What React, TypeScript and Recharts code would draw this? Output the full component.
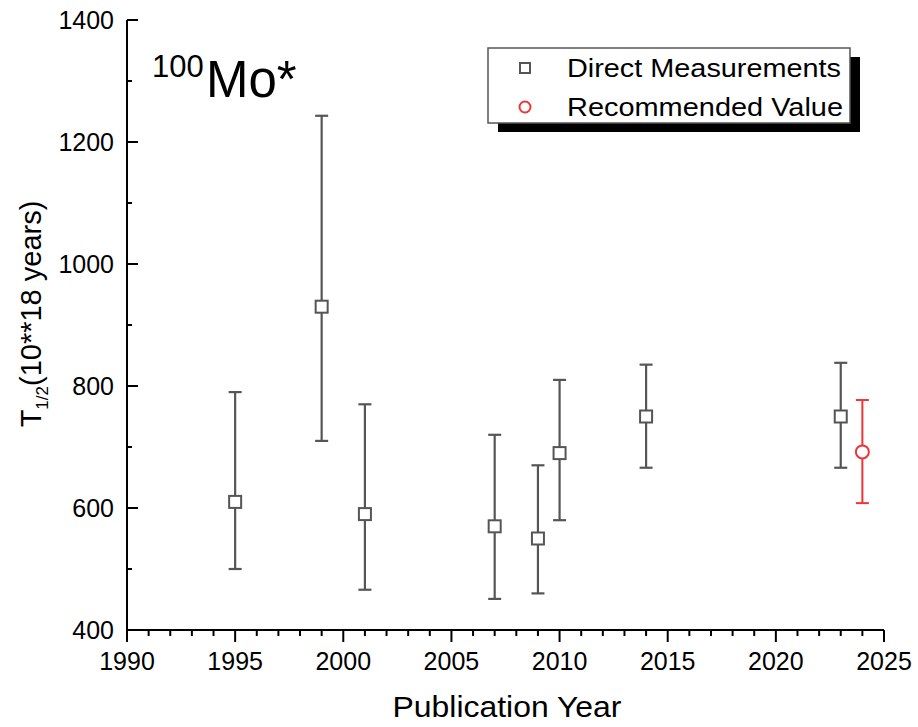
import React from 'react';
import { ScatterChart, Scatter, XAxis, YAxis, ErrorBar } from 'recharts';

// Direct measurements (values in 10**18 years)
const directYears = [1995, 1999, 2001, 2007, 2009, 2010, 2014, 2023];
const directValues = [610, 930, 590, 570, 550, 690, 750, 750];
const directUpper = [790, 1243, 770, 720, 670, 810, 835, 838];
const directLower = [500, 710, 466, 451, 460, 580, 666, 666];

// Recommended value
const recYears = [2024];
const recValues = [692];
const recUpper = [777];
const recLower = [608];

const xMajorTicks = [1990, 1995, 2000, 2005, 2010, 2015, 2020, 2025];
const yMajorTicks = [400, 600, 800, 1000, 1200, 1400];
const xAllTicks = Array.from({ length: 36 }, (_, i) => 1990 + i);
const yAllTicks = Array.from({ length: 11 }, (_, i) => 400 + i * 100);

const FONT = '"Liberation Sans", Arial, sans-serif';
const GRAY = '#555555';
const RED = '#ee3535';

const directData = directYears.map((year, i) => ({
  year,
  value: directValues[i],
  err: [directValues[i] - directLower[i], directUpper[i] - directValues[i]],
}));

const recData = recYears.map((year, i) => ({
  year,
  value: recValues[i],
  err: [recValues[i] - recLower[i], recUpper[i] - recValues[i]],
}));

const isMajorX = (v: number) => xMajorTicks.includes(v);
const isMajorY = (v: number) => yMajorTicks.includes(v);

const BottomTick = (props: any) => {
  const { x, y, payload } = props;
  const major = isMajorX(payload.value);
  return (
    <g>
      <line x1={x} x2={x} y1={y} y2={y + (major ? 12 : 6)} stroke="#000" strokeWidth={2} />
      {major && (
        <text x={x} y={y + 40} textAnchor="middle" fontSize={25} fontFamily={FONT} fill="#000">
          {payload.value}
        </text>
      )}
    </g>
  );
};

const TopTick = (props: any) => {
  const { x, y, payload } = props;
  const major = isMajorX(payload.value);
  return <line x1={x} x2={x} y1={y} y2={y + (major ? 10 : 5)} stroke="#000" strokeWidth={2} />;
};

// left ticks point into the plot
const LeftTick = (props: any) => {
  const { x, y, payload } = props;
  const major = isMajorY(payload.value);
  return (
    <g>
      <line x1={x} x2={x + (major ? 11 : 5)} y1={y} y2={y} stroke="#000" strokeWidth={2} />
      {major && (
        <text x={x - 13} y={y} dy="0.36em" textAnchor="end" fontSize={25} fontFamily={FONT} fill="#000">
          {payload.value}
        </text>
      )}
    </g>
  );
};

const RightTick = (props: any) => {
  const { x, y, payload } = props;
  const major = isMajorY(payload.value);
  return <line x1={x} x2={x - (major ? 11 : 5)} y1={y} y2={y} stroke="#000" strokeWidth={2} />;
};

const SquareShape = (props: any) => {
  const { cx, cy } = props;
  return <rect x={cx - 6} y={cy - 6} width={12} height={12} fill="#fff" stroke={GRAY} strokeWidth={2} />;
};

const CircleShape = (props: any) => {
  const { cx, cy } = props;
  return <circle cx={cx} cy={cy} r={6.5} fill="#fff" stroke={RED} strokeWidth={2} />;
};

const axisLine = { stroke: '#000', strokeWidth: 2 };

export default function App() {
  return (
    <div style={{ position: 'absolute', left: 0, top: 0, width: 918, height: 727, background: '#fff' }}>
      <ScatterChart width={918} height={727} margin={{ top: 20, right: 34, bottom: 0, left: 0 }}>
        <XAxis
          xAxisId="bottom"
          type="number"
          dataKey="year"
          domain={[1990, 2025]}
          ticks={xAllTicks}
          interval={0}
          height={97}
          tickSize={0}
          tickMargin={0}
          tickLine={false}
          axisLine={axisLine}
          tick={BottomTick}
          allowDataOverflow
        />
        <XAxis
          xAxisId="top"
          orientation="top"
          type="number"
          domain={[1990, 2025]}
          ticks={xAllTicks}
          interval={0}
          height={0}
          tickSize={0}
          tickMargin={0}
          tickLine={false}
          axisLine={axisLine}
          tick={TopTick}
          allowDataOverflow
        />
        <YAxis
          yAxisId="left"
          type="number"
          dataKey="value"
          domain={[400, 1400]}
          ticks={yAllTicks}
          interval={0}
          width={127}
          tickSize={0}
          tickMargin={0}
          tickLine={false}
          axisLine={axisLine}
          tick={LeftTick}
          allowDataOverflow
        />
        <YAxis
          yAxisId="right"
          orientation="right"
          type="number"
          domain={[400, 1400]}
          ticks={yAllTicks}
          interval={0}
          width={0}
          tickSize={0}
          tickMargin={0}
          tickLine={false}
          axisLine={axisLine}
          tick={RightTick}
          allowDataOverflow
        />
        <Scatter
          name="Direct Measurements"
          xAxisId="bottom"
          yAxisId="left"
          data={directData}
          shape={SquareShape}
          isAnimationActive={false}
        >
          <ErrorBar dataKey="err" direction="y" width={6.5} stroke={GRAY} strokeWidth={2.2} isAnimationActive={false} />
        </Scatter>
        <Scatter
          name="Recommended Value"
          xAxisId="bottom"
          yAxisId="left"
          data={recData}
          shape={CircleShape}
          isAnimationActive={false}
        >
          <ErrorBar dataKey="err" direction="y" width={6.5} stroke={RED} strokeWidth={2} isAnimationActive={false} />
        </Scatter>
      </ScatterChart>

      <svg
        width={918}
        height={727}
        style={{ position: 'absolute', left: 0, top: 0, pointerEvents: 'none' }}
        fontFamily={FONT}
      >
        {/* isotope label */}
        <text x={152} y={77} fontSize={31} fill="#000">100</text>
        <text x={206} y={97} fontSize={51} fill="#000">Mo*</text>

        {/* legend */}
        <rect x={498} y={57} width={362} height={75} fill="#000" />
        <rect x={488} y={48} width={362} height={75} fill="#fff" stroke={GRAY} strokeWidth={1.5} />
        <rect x={520} y={63} width={10} height={10} fill="#fff" stroke={GRAY} strokeWidth={2} />
        <circle cx={525} cy={107} r={5.5} fill="#fff" stroke={RED} strokeWidth={2} />
        <text x={567} y={68} dy="0.36em" fontSize={25} textLength={274} lengthAdjust="spacingAndGlyphs" fill="#000">
          Direct Measurements
        </text>
        <text x={567} y={107} dy="0.36em" fontSize={25} textLength={276} lengthAdjust="spacingAndGlyphs" fill="#000">
          Recommended Value
        </text>

        {/* axis titles */}
        <text x={507} y={717} textAnchor="middle" fontSize={30} textLength={229} lengthAdjust="spacingAndGlyphs" fill="#000">
          Publication Year
        </text>
        <text transform="translate(41,314) rotate(-90)" textAnchor="middle" fontSize={29} fill="#000">
          T<tspan fontSize={17} dy={7}>1/2</tspan>
          <tspan dy={-7}>(10**18 years)</tspan>
        </text>
      </svg>
    </div>
  );
}
